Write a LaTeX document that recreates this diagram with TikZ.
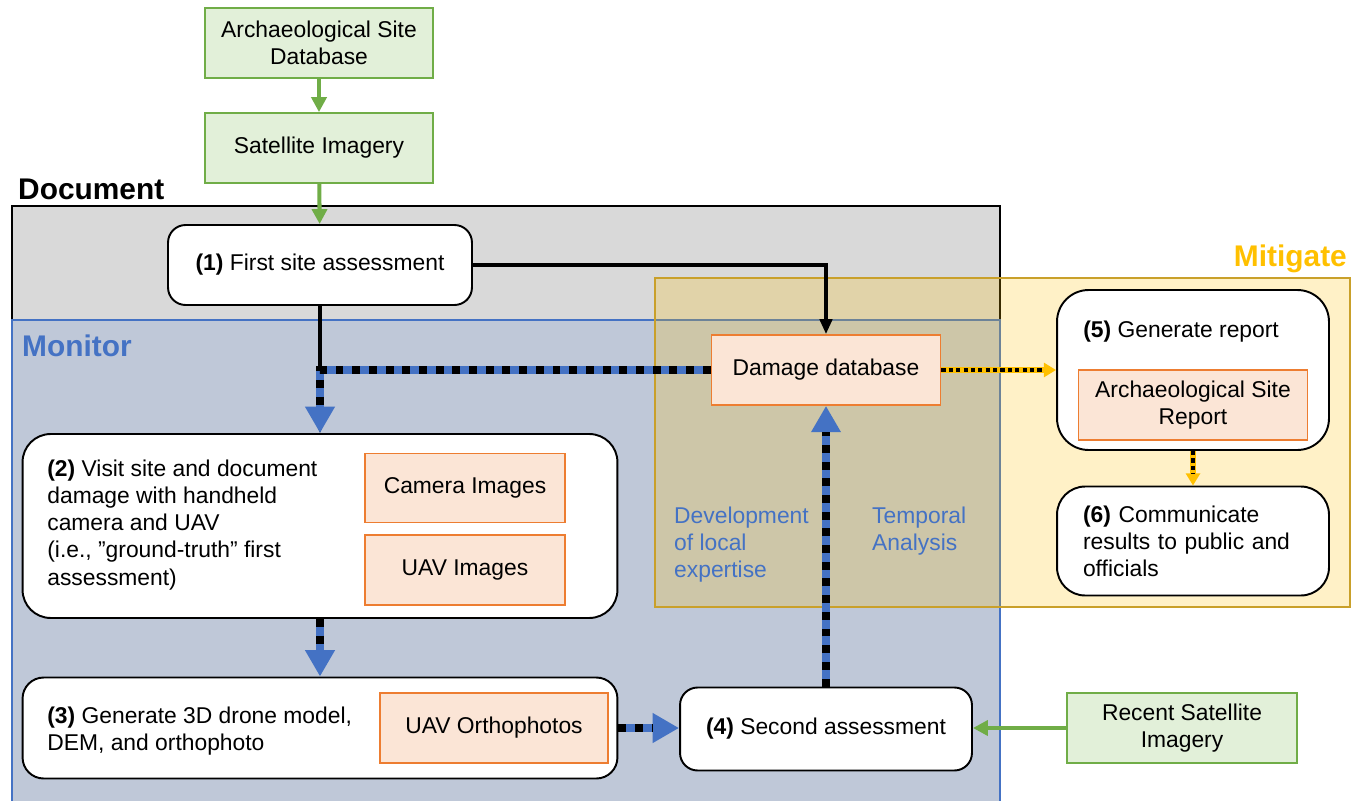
\documentclass[tikz,border=0pt]{standalone}
\usepackage{fontspec}
\setmainfont{Liberation Sans}
\usetikzlibrary{arrows.meta}
\definecolor{docgray}{HTML}{D9D9D9}
\definecolor{monfill}{HTML}{BFC8D8}
\definecolor{mblue}{HTML}{4472C4}
\definecolor{myellow}{HTML}{FFC000}
\definecolor{mitline}{HTML}{C9A02A}
\definecolor{gfill}{HTML}{E2F0D9}
\definecolor{gline}{HTML}{70AD47}
\definecolor{ofill}{HTML}{FBE5D6}
\definecolor{oline}{HTML}{ED7D31}
\begin{document}
\begin{tikzpicture}[x=0.02cm, y=-0.02cm, font=\fontsize{13}{15.4}\selectfont,
  greenbox/.style={draw=gline, fill=gfill, line width=1pt, minimum width=4.56cm, minimum height=1.4cm, align=center},
  peachbox/.style={draw=oline, fill=ofill, line width=1pt, minimum width=4.56cm, minimum height=1.4cm, align=center},
  stagebox/.style={draw, fill=white, line width=1.1pt, rounded corners=10pt},
  greenarrow/.style={draw=gline, line width=2.3pt, -{Triangle[width=8.5pt,length=8.5pt]}},
  blackarrow/.style={line width=2pt, -{Triangle[width=7pt,length=8.5pt]}},
  bluedash/.style={draw=mblue, line width=4.4pt, -{Triangle[width=16pt,length=15pt]},
    postaction={draw=black, -, shorten >=15pt, dash pattern=on 4.5pt off 5pt}},
  yellowdot/.style={draw=myellow, line width=3.4pt, -{Triangle[width=8pt,length=7pt]},
    postaction={draw=black, -, line width=2.6pt, shorten >=7pt, dash pattern=on 2.4pt off 1.8pt}},
  heading/.style={font=\fontsize{17}{20}\selectfont\bfseries, anchor=west},
  note/.style={text=mblue, align=left, anchor=west}]
\clip (0,0) rectangle (1356,801);
\draw[fill=docgray, line width=1pt] (12,206) rectangle (1000,830);
\draw[fill=monfill, draw=mblue, line width=1pt] (12,320) rectangle (1000,830);
\draw[fill=myellow, fill opacity=0.22, draw=mitline, line width=1.2pt] (655,278) rectangle (1350,607);
\node[heading] (doclabel) at (12,189) {Document};
\node[heading, text=mblue] (monlabel) at (16,346) {Monitor};
\node[heading, text=myellow, anchor=east] (mitlabel) at (1353,259) {Mitigate};

\node[greenbox] (asd) at (319,43) {Archaeological Site\\Database};
\node[greenbox] (sat) at (319,148) {Satellite Imagery};
\node[stagebox, minimum width=6.08cm, minimum height=1.6cm] (n1) at (320,265) {\textbf{(1)} First site assessment};
\node[peachbox, minimum width=4.58cm] (dmg) at (826,370) {Damage database};
\node[stagebox, rounded corners=16pt, minimum width=11.9cm, minimum height=3.68cm] (n2) at (320,526) {};
\node[anchor=west, align=left, inner sep=0pt] (t2) at (47,525) {\textbf{(2)} Visit site and document\\damage with handheld\\camera and UAV\\(i.e., ”ground-truth” first\\assessment)};
\node[peachbox, minimum width=4cm, minimum height=1.38cm] (cam) at (465,488) {Camera Images};
\node[peachbox, minimum width=4cm] (uav) at (465,570) {UAV Images};
\node[stagebox, rounded corners=12pt, minimum width=11.9cm, minimum height=2.02cm] (n3) at (320,728) {};
\node[anchor=west, align=left, inner sep=0pt] (t3) at (47,731) {\textbf{(3)} Generate 3D drone model,\\DEM, and orthophoto};
\node[peachbox] (ortho) at (494,728) {UAV Orthophotos};
\node[stagebox, minimum width=5.84cm, minimum height=1.66cm] (n4) at (826,729) {\textbf{(4)} Second assessment};
\node[greenbox, minimum width=4.6cm] (recent) at (1182,728) {Recent Satellite\\Imagery};
\node[stagebox, rounded corners=18pt, minimum width=5.44cm, minimum height=3.2cm] (n5) at (1193,370) {};
\node[anchor=west, inner sep=0pt] (t5) at (1083,332) {\textbf{(5)} Generate report};
\node[peachbox, minimum width=4.58cm] (asr) at (1193,405) {Archaeological Site\\Report};
\node[stagebox, rounded corners=16pt, minimum width=5.44cm, minimum height=2.18cm, text width=4.4cm, align=left] (n6) at (1193,541) {\textbf{(6)} Communicate\\results to public and\\officials};
\node[note] (devnote) at (668,545) {Development\\of local\\expertise};
\node[note] (tempnote) at (866,531) {Temporal\\Analysis};

\draw[greenarrow] (asd) -- (sat);
\draw[greenarrow] (sat) -- (n1);
\draw[greenarrow] (recent.west) -- (recent.west -| n4.east);
\draw[blackarrow] (n1.east) -| (dmg.north);
\draw[blackarrow] (n1.south) -- (n2.north);
\draw[bluedash] (dmg.west) -| (n2.north);
\draw[bluedash] (n2.south) -- (n3.north);
\draw[bluedash] (n3.east) -- (n3.east -| n4.west);
\draw[bluedash] (n4.north) -- (dmg.south);
\draw[yellowdot] (dmg.east) -- (n5.west);
\draw[yellowdot] (n5.south) -- (n6.north);
\end{tikzpicture}
\end{document}
